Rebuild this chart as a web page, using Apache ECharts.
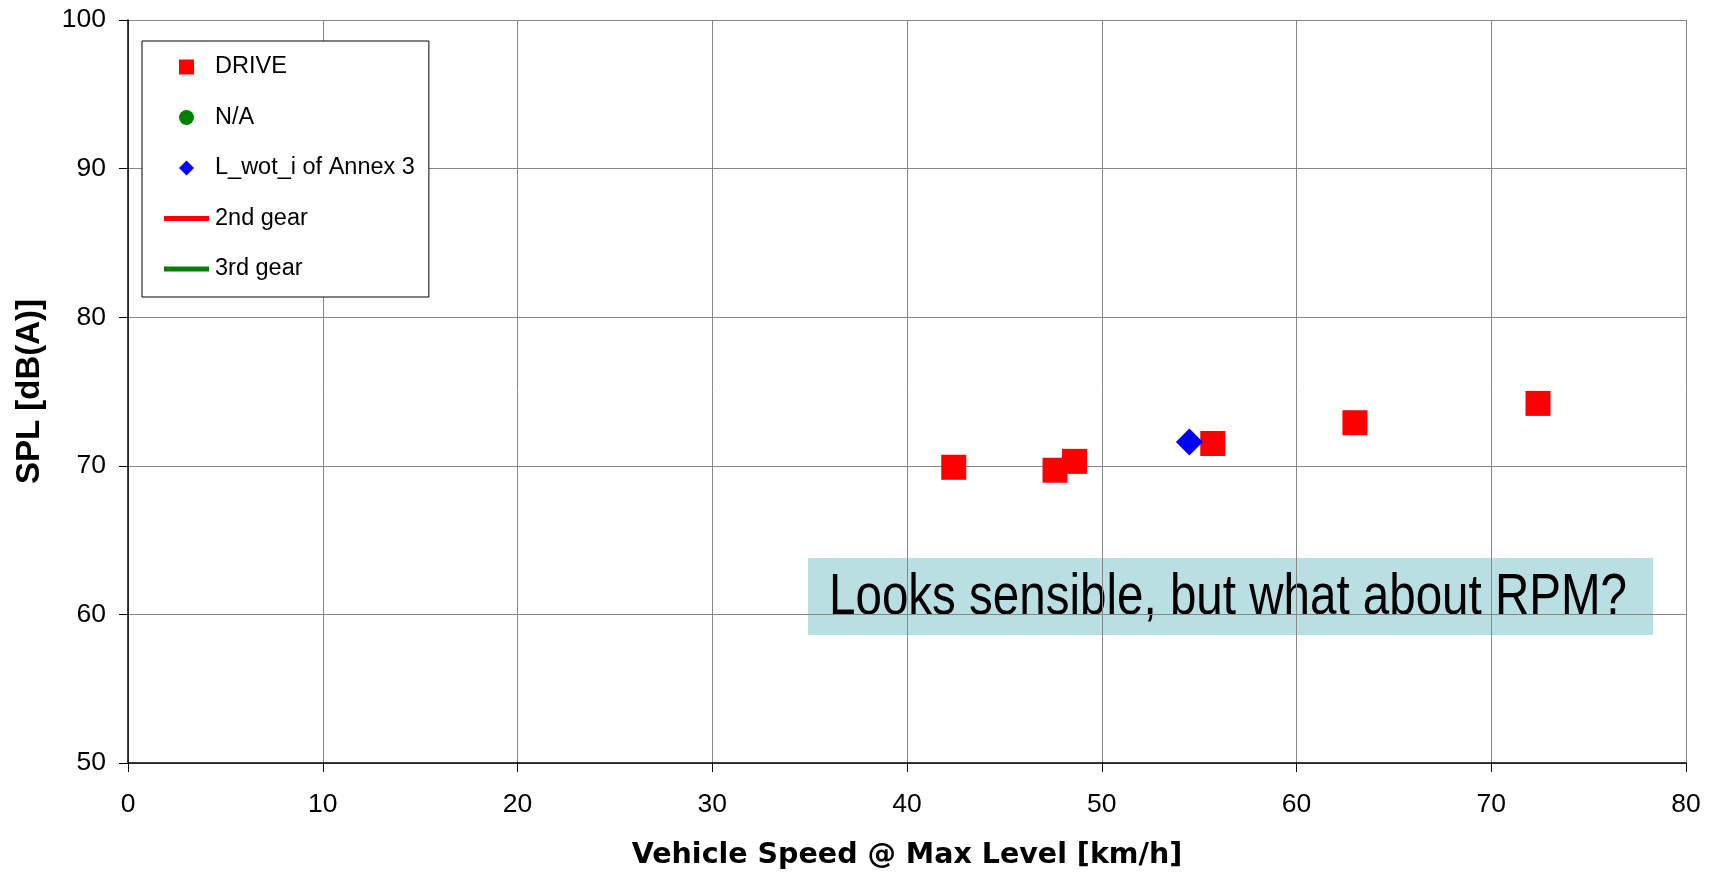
<!DOCTYPE html>
<html>
<head>
<meta charset="utf-8">
<script src="https://cdn.jsdelivr.net/npm/echarts@6/dist/echarts.min.js"></script>
<style>
  html, body { margin: 0; padding: 0; background: #fff; }
  #chart { width: 1715px; height: 872px; }
</style>
</head>
<body>
<div id="chart"></div>
<script>
// values
var driveSpeed = [42.4, 47.6, 48.6, 55.7, 63.0, 72.4];
var driveSpl = [69.9, 69.7, 70.3, 71.5, 72.9, 74.2];
var naSpeed = [];
var naSpl = [];
var annexSpeed = [54.5];
var annexSpl = [71.6];
var gear2 = [];
var gear3 = [];
var seriesNames = ['DRIVE', 'N/A', 'L_wot_i of Annex 3', '2nd gear', '3rd gear'];
var xTicks = { min: 0, max: 80, step: 10 };
var yTicks = { min: 50, max: 100, step: 10 };
var note = 'Looks sensible, but what about RPM?';

function pairs(xs, ys) {
    var out = [];
    for (var i = 0; i < xs.length; i++) {
        out.push([xs[i], ys[i]]);
    }
    return out;
}

// legend icons, all with a 47x15 bounding box so they sit centred
var box = 'M0,0M47,15';
var icons = {
    square: 'path://' + box + 'M16,0L31,0L31,15L16,15Z',
    circle: 'path://' + box + 'M16,7.5A7.5,7.5 0 1,1 31,7.5A7.5,7.5 0 1,1 16,7.5Z',
    diamond: 'path://' + box + 'M23.5,0L31,7.5L23.5,15L16,7.5Z',
    line: 'path://' + box + 'M1,5L46,5L46,10L1,10Z'
};

var font = 'Liberation Sans, Arial, sans-serif';

var option = {
    animation: false,
    backgroundColor: '#fff',
    grid: { left: 128, right: 29, top: 20, bottom: 109, outerBoundsMode: 'none' },
    legend: {
        orient: 'vertical',
        left: 142,
        top: 41,
        padding: [14, 14, 16, 21],
        itemGap: 26.5,
        itemWidth: 47,
        itemHeight: 15,
        selectedMode: false,
        backgroundColor: '#fff',
        borderColor: '#000',
        borderWidth: 1,
        textStyle: { fontFamily: font, fontSize: 23.5, color: '#000' },
        itemStyle: { borderWidth: 0, opacity: 1 },
        data: [
            { name: seriesNames[0], icon: icons.square },
            { name: seriesNames[1], icon: icons.circle },
            { name: seriesNames[2], icon: icons.diamond },
            { name: seriesNames[3], icon: icons.line },
            { name: seriesNames[4], icon: icons.line }
        ]
    },
    xAxis: {
        type: 'value',
        min: xTicks.min,
        max: xTicks.max,
        interval: xTicks.step,
        name: 'Vehicle Speed @ Max Level [km/h]',
        nameLocation: 'middle',
        nameGap: 78,
        nameTextStyle: { fontFamily: 'DejaVu Sans', fontWeight: 'bold', fontSize: 28.5, color: '#000' },
        axisLine: { onZero: false, lineStyle: { color: '#000', width: 1.5 } },
        axisTick: { show: true, length: 9, lineStyle: { color: '#000' } },
        axisLabel: { margin: 28, fontFamily: font, fontSize: 26.5, color: '#000' },
        splitLine: { show: true, lineStyle: { color: '#878787', width: 1 } }
    },
    yAxis: {
        type: 'value',
        min: yTicks.min,
        max: yTicks.max,
        interval: yTicks.step,
        name: 'SPL [dB(A)]',
        nameLocation: 'middle',
        nameGap: 82,
        nameTextStyle: { fontFamily: font, fontWeight: 'bold', fontSize: 33, color: '#000' },
        axisLine: { onZero: false, lineStyle: { color: '#000', width: 1.5 } },
        axisTick: { show: true, length: 9, lineStyle: { color: '#000' } },
        axisLabel: { margin: 22, fontFamily: font, fontSize: 26.5, color: '#000' },
        splitLine: { show: true, lineStyle: { color: '#878787', width: 1 } }
    },
    graphic: [{
        type: 'group',
        left: 808,
        top: 558,
        children: [{
            type: 'rect',
            shape: { x: 0, y: 0, width: 845, height: 77 },
            style: { fill: '#B9DFE3' }
        }, {
            type: 'text',
            x: 21,
            y: 40,
            scaleX: 0.834,
            style: {
                text: note,
                fontFamily: font,
                fontSize: 57,
                fill: '#000',
                verticalAlign: 'middle'
            }
        }]
    }],
    series: [{
        name: seriesNames[0],
        type: 'scatter',
        symbol: 'rect',
        symbolSize: 25,
        itemStyle: { color: '#FF0000', opacity: 1 },
        data: pairs(driveSpeed, driveSpl)
    }, {
        name: seriesNames[1],
        type: 'scatter',
        symbol: 'circle',
        symbolSize: 15,
        itemStyle: { color: '#008000', opacity: 1 },
        data: pairs(naSpeed, naSpl)
    }, {
        name: seriesNames[2],
        type: 'scatter',
        symbol: 'diamond',
        symbolSize: 27,
        itemStyle: { color: '#0000FF', opacity: 1 },
        z: 3,
        data: pairs(annexSpeed, annexSpl)
    }, {
        name: seriesNames[3],
        type: 'line',
        color: '#FF0000',
        itemStyle: { color: '#FF0000' },
        lineStyle: { color: '#FF0000', width: 5 },
        data: gear2
    }, {
        name: seriesNames[4],
        type: 'line',
        color: '#008000',
        itemStyle: { color: '#008000' },
        lineStyle: { color: '#008000', width: 5 },
        data: gear3
    }]
};

var myChart = echarts.init(document.getElementById('chart'));
myChart.setOption(option);
</script>
</body>
</html>
